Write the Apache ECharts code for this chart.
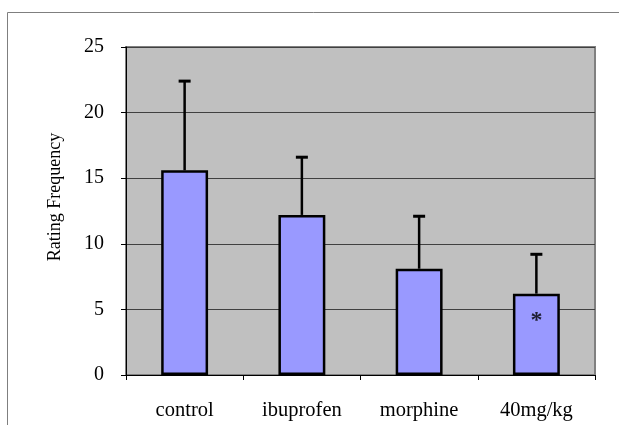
<!DOCTYPE html>
<html><head><meta charset="utf-8">
<script src="https://cdn.jsdelivr.net/npm/echarts@6/dist/echarts.min.js"></script>
<style>html,body{margin:0;padding:0;background:#fff}#c{width:619px;height:425px}</style>
</head><body><div id="c"></div>
<script>
const categories = ['control', 'ibuprofen', 'morphine', '40mg/kg'];
const means = [15.6, 12.2, 8.1, 6.2];
const errorTops = [22.4, 16.6, 12.1, 9.2];
const yTicks = [0, 5, 10, 15, 20, 25];
const markCategory = 3;
const markValue = 4.1;
const markText = '*';

const chart = echarts.init(document.getElementById('c'), null, {renderer: 'canvas'});
const font = '"Liberation Serif", "Times New Roman", serif';
chart.setOption({
  animation: false,
  graphic: [{type: 'rect', shape: {x: 7.5, y: 12.5, width: 700, height: 500},
    style: {fill: 'none', stroke: '#7f7f7f', lineWidth: 1}, z: -10}],
  grid: {left: 126, right: 24, top: 47, bottom: 50, show: true,
    backgroundColor: '#c0c0c0', borderColor: '#808080', borderWidth: 2},
  xAxis: {type: 'category', data: categories,
    axisLine: {lineStyle: {color: '#000', width: 1}},
    axisTick: {show: true, length: 5, lineStyle: {color: '#000'}},
    axisLabel: {fontFamily: font, fontSize: 20.5, color: '#000', margin: 25}},
  yAxis: {type: 'value', min: yTicks[0], max: yTicks[yTicks.length - 1], interval: 5,
    name: 'Rating Frequency', nameLocation: 'middle', nameGap: 62,
    nameTextStyle: {fontFamily: font, fontSize: 18, color: '#000', padding: [0, 0, 0, 28]},
    axisLine: {show: true, lineStyle: {color: '#000', width: 1}},
    axisTick: {show: true, length: 5, lineStyle: {color: '#000'}},
    axisLabel: {fontFamily: font, fontSize: 20, color: '#000', margin: 22},
    splitLine: {lineStyle: {color: '#404040', width: 1}}},
  series: [
    {type: 'bar', data: means, barWidth: '40%',
      itemStyle: {color: '#9999ff', borderColor: '#000', borderWidth: 2.5}, z: 3},
    {type: 'custom', z: 2,
      data: errorTops.map((v, i) => [i, means[i], v]),
      renderItem: function (params, api) {
        const base = api.coord([api.value(0), api.value(1)]);
        const top = api.coord([api.value(0), api.value(2)]);
        return {type: 'group', children: [
          {type: 'line', shape: {x1: base[0], y1: base[1], x2: top[0], y2: top[1]},
            style: {stroke: '#000', lineWidth: 2.5}},
          {type: 'line', shape: {x1: top[0] - 6, y1: top[1], x2: top[0] + 6, y2: top[1]},
            style: {stroke: '#000', lineWidth: 3}}
        ]};
      }},
    {type: 'scatter', data: [[markCategory, markValue]], symbolSize: 0, z: 5,
      label: {show: true, position: 'inside', formatter: markText,
        fontFamily: font, fontSize: 24, fontWeight: 'bold', color: '#000'}}
  ]
});
</script></body></html>
